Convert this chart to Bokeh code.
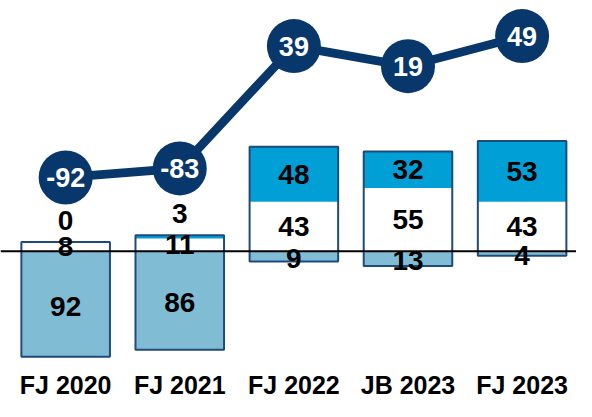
from bokeh.plotting import figure
from bokeh.models import Range1d, Span
from bokeh.embed import file_html
from bokeh.resources import INLINE
from bokeh.core.properties import value

# ---- data ----
categories = ["FJ 2020", "FJ 2021", "FJ 2022", "JB 2023", "FJ 2023"]
negative = [92, 86, 9, 13, 4]      # light blue, below zero
neutral = [8, 11, 43, 55, 43]      # white, above zero
positive = [0, 3, 48, 32, 53]      # blue, on top
balance = [-92, -83, 39, 19, 49]   # line with circles

# ---- styles ----
FONT = value("Liberation Sans")
NAVY = "#08376b"
BORDER = "#1f4a7c"
LIGHT = "#80bdd5"
BLUE = "#00a0d6"

W, H = 576, 401
PX_BAR = 1.1472          # px per unit (bars)
x0, x1 = -0.571, 4.4767
y0_bar, y1_bar = -131.0, 218.5
y0_line, y1_line = -315.5, 84.5

xs = list(range(len(categories)))

p = figure(width=W, height=H, output_backend="svg", toolbar_location=None,
           x_range=Range1d(x0, x1), y_range=Range1d(y0_bar, y1_bar),
           x_axis_location=None, y_axis_location=None, min_border=0,
           outline_line_color=None, background_fill_color="white")
p.grid.visible = False
p.extra_y_ranges = {"line": Range1d(y0_line, y1_line)}

bw = 0.776
neg_bottom = [-n for n in negative]
mid_top = list(neutral)
top_top = [m + t for m, t in zip(neutral, positive)]

p.vbar(x=xs, bottom=neg_bottom, top=[0] * len(xs), width=bw,
       fill_color=LIGHT, line_color=None)
p.vbar(x=xs, bottom=[0] * len(xs), top=mid_top, width=bw,
       fill_color="white", line_color=None)
p.vbar(x=xs, bottom=mid_top, top=top_top, width=bw,
       fill_color=BLUE, line_color=None)
p.vbar(x=xs, bottom=neg_bottom, top=top_top, width=bw,
       fill_color=None, line_color=BORDER, line_width=2)

p.add_layout(Span(location=0, dimension="width", line_color="black", line_width=2))

# segment labels
lab_x, lab_y, lab_t = [], [], []
for i in xs:
    lab_x.append(i); lab_y.append(-negative[i] / 2 - 2); lab_t.append(str(negative[i]))
    lab_x.append(i); lab_y.append(neutral[i] / 2); lab_t.append(str(neutral[i]))
    if positive[i] < 10:
        ty = top_top[i] + 19
    else:
        ty = neutral[i] + positive[i] / 2
    lab_x.append(i); lab_y.append(ty); lab_t.append(str(positive[i]))
p.text(x=lab_x, y=lab_y, text=lab_t, text_font=FONT, text_font_style="bold",
       text_font_size="28px", text_color="black", text_align="center",
       text_baseline="middle")

# balance line
p.line(xs, balance, y_range_name="line", line_width=8.7, line_color=NAVY)
p.scatter(xs, balance, y_range_name="line", size=54, fill_color=NAVY, line_color=None)
p.text(x=xs, y=balance, text=[str(b) for b in balance], y_range_name="line",
       text_font=FONT, text_font_style="bold", text_font_size="27px",
       text_color="white", text_align="center", text_baseline="middle")

# category labels (centre ~16 px above the bottom edge)
cat_y = y0_bar + 16.0 / PX_BAR
p.text(x=xs, y=[cat_y] * len(xs), text=categories, text_font=FONT,
       text_font_style="bold", text_font_size="25px", text_color="black",
       text_align="center", text_baseline="middle")

open("out.html", "w").write(file_html(p, INLINE))
